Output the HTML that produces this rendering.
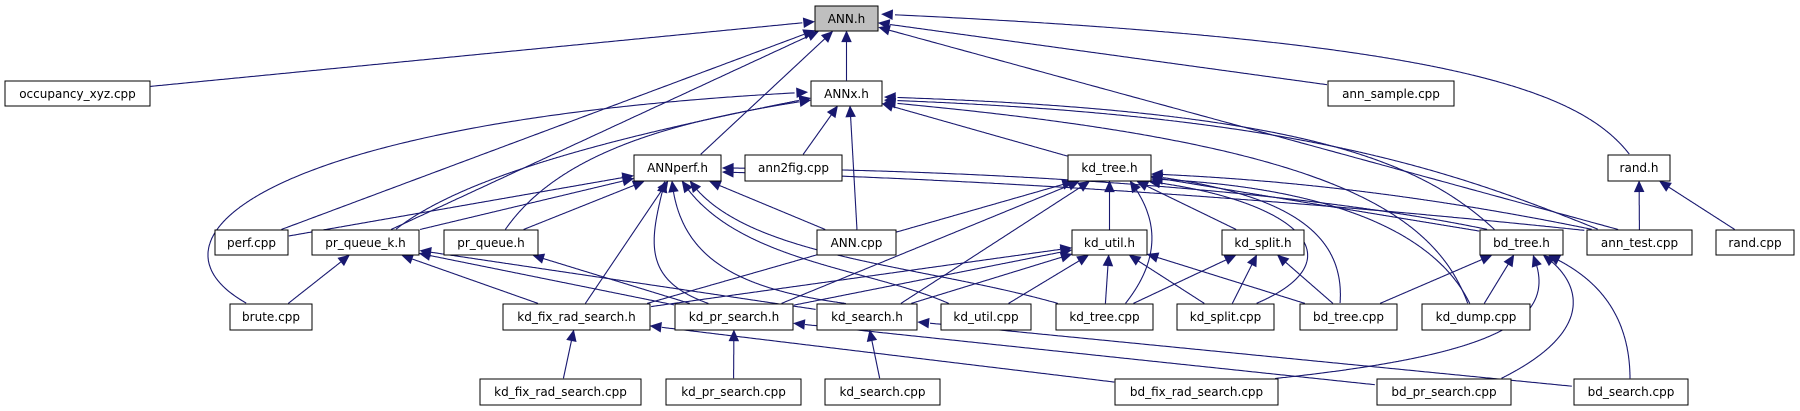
<!DOCTYPE html>
<html><head><meta charset="utf-8"><style>
html,body{margin:0;padding:0;background:#fff;width:1800px;height:411px;overflow:hidden}
svg text{font-family:"DejaVu Sans","Liberation Sans",sans-serif;font-size:12px;fill:#000}
</style></head><body>
<svg id="g" width="1800" height="411" xmlns="http://www.w3.org/2000/svg">
<g id="edges"></g>
<g id="nodes">
<rect x="815" y="6" width="63" height="25" fill="#bfbfbf" stroke="#000"/><text x="846.5" y="23" text-anchor="middle">ANN.h</text>
<rect x="5" y="81" width="145" height="25" fill="#fff" stroke="#000"/><text x="77.5" y="98" text-anchor="middle">occupancy_xyz.cpp</text>
<rect x="811" y="81" width="71" height="25" fill="#fff" stroke="#000"/><text x="846.5" y="98" text-anchor="middle">ANNx.h</text>
<rect x="1328" y="81" width="126" height="25" fill="#fff" stroke="#000"/><text x="1391" y="98" text-anchor="middle">ann_sample.cpp</text>
<rect x="634" y="155" width="87" height="26" fill="#fff" stroke="#000"/><text x="677.5" y="172" text-anchor="middle">ANNperf.h</text>
<rect x="745" y="155" width="97" height="26" fill="#fff" stroke="#000"/><text x="793.5" y="172" text-anchor="middle">ann2fig.cpp</text>
<rect x="1068" y="155" width="83" height="26" fill="#fff" stroke="#000"/><text x="1109.5" y="172" text-anchor="middle">kd_tree.h</text>
<rect x="1608" y="155" width="62" height="26" fill="#fff" stroke="#000"/><text x="1639" y="172" text-anchor="middle">rand.h</text>
<rect x="215" y="230" width="73" height="25" fill="#fff" stroke="#000"/><text x="251.5" y="247" text-anchor="middle">perf.cpp</text>
<rect x="312" y="230" width="107" height="25" fill="#fff" stroke="#000"/><text x="365.5" y="247" text-anchor="middle">pr_queue_k.h</text>
<rect x="444" y="230" width="94" height="25" fill="#fff" stroke="#000"/><text x="491" y="247" text-anchor="middle">pr_queue.h</text>
<rect x="817" y="230" width="79" height="25" fill="#fff" stroke="#000"/><text x="856.5" y="247" text-anchor="middle">ANN.cpp</text>
<rect x="1072" y="230" width="75" height="25" fill="#fff" stroke="#000"/><text x="1109.5" y="247" text-anchor="middle">kd_util.h</text>
<rect x="1222" y="230" width="82" height="25" fill="#fff" stroke="#000"/><text x="1263" y="247" text-anchor="middle">kd_split.h</text>
<rect x="1480" y="230" width="83" height="25" fill="#fff" stroke="#000"/><text x="1521.5" y="247" text-anchor="middle">bd_tree.h</text>
<rect x="1587" y="230" width="105" height="25" fill="#fff" stroke="#000"/><text x="1639.5" y="247" text-anchor="middle">ann_test.cpp</text>
<rect x="1716" y="230" width="78" height="25" fill="#fff" stroke="#000"/><text x="1755" y="247" text-anchor="middle">rand.cpp</text>
<rect x="230" y="304" width="82" height="26" fill="#fff" stroke="#000"/><text x="271" y="321" text-anchor="middle">brute.cpp</text>
<rect x="503" y="304" width="147" height="26" fill="#fff" stroke="#000"/><text x="576.5" y="321" text-anchor="middle">kd_fix_rad_search.h</text>
<rect x="675" y="304" width="118" height="26" fill="#fff" stroke="#000"/><text x="734" y="321" text-anchor="middle">kd_pr_search.h</text>
<rect x="817" y="304" width="100" height="26" fill="#fff" stroke="#000"/><text x="867" y="321" text-anchor="middle">kd_search.h</text>
<rect x="941" y="304" width="90" height="26" fill="#fff" stroke="#000"/><text x="986" y="321" text-anchor="middle">kd_util.cpp</text>
<rect x="1056" y="304" width="97" height="26" fill="#fff" stroke="#000"/><text x="1104.5" y="321" text-anchor="middle">kd_tree.cpp</text>
<rect x="1177" y="304" width="97" height="26" fill="#fff" stroke="#000"/><text x="1225.5" y="321" text-anchor="middle">kd_split.cpp</text>
<rect x="1300" y="304" width="97" height="26" fill="#fff" stroke="#000"/><text x="1348.5" y="321" text-anchor="middle">bd_tree.cpp</text>
<rect x="1422" y="304" width="108" height="26" fill="#fff" stroke="#000"/><text x="1476" y="321" text-anchor="middle">kd_dump.cpp</text>
<rect x="480" y="379" width="161" height="26" fill="#fff" stroke="#000"/><text x="560.5" y="396" text-anchor="middle">kd_fix_rad_search.cpp</text>
<rect x="666" y="379" width="135" height="26" fill="#fff" stroke="#000"/><text x="733.5" y="396" text-anchor="middle">kd_pr_search.cpp</text>
<rect x="825" y="379" width="115" height="26" fill="#fff" stroke="#000"/><text x="882.5" y="396" text-anchor="middle">kd_search.cpp</text>
<rect x="1115" y="379" width="163" height="26" fill="#fff" stroke="#000"/><text x="1196.5" y="396" text-anchor="middle">bd_fix_rad_search.cpp</text>
<rect x="1377" y="379" width="134" height="26" fill="#fff" stroke="#000"/><text x="1444" y="396" text-anchor="middle">bd_pr_search.cpp</text>
<rect x="1574" y="379" width="114" height="26" fill="#fff" stroke="#000"/><text x="1631" y="396" text-anchor="middle">bd_search.cpp</text>
</g>
</svg>
<script>
var N={
"ANN.h":[815,6,63,25],"occ":[5,81,145,25],"ANNx.h":[811,81,71,25],"sample":[1328,81,126,25],
"ANNperf.h":[634,155,87,26],"ann2fig":[745,155,97,26],"kd_tree.h":[1068,155,83,26],"rand.h":[1608,155,62,26],
"perf":[215,230,73,25],"pqk":[312,230,107,25],"pq":[444,230,94,25],"ANNcpp":[817,230,79,25],"kd_util.h":[1072,230,75,25],
"kd_split.h":[1222,230,82,25],"bd_tree.h":[1480,230,83,25],"ann_test":[1587,230,105,25],"randcpp":[1716,230,78,25],
"brute":[230,304,82,26],"kfrs.h":[503,304,147,26],"kprs.h":[675,304,118,26],"ks.h":[817,304,100,26],"kucpp":[941,304,90,26],
"ktcpp":[1056,304,97,26],"kscpp":[1177,304,97,26],"btcpp":[1300,304,97,26],"kdump":[1422,304,108,26],
"kfrscpp":[480,379,161,26],"kprscpp":[666,379,135,26],"kscpp2":[825,379,115,26],"bfrs":[1115,379,163,26],"bprs":[1377,379,134,26],"bs":[1574,379,114,26]};
var E=[
["occ","ANN.h"],["ANNx.h","ANN.h"],["ANNperf.h","ANN.h",null,null,[700,155]],["perf","ANN.h",null,null,[280,230]],["pqk","ANN.h",null,null,[390,230]],["sample","ANN.h"],["ann_test","ANN.h",null,null,[1620,230]],
["rand.h","ANN.h",[1580,90],[1450,40],[1630,155],[878,14]],
["brute","ANNx.h",[130,240],[260,120],[248,304],[811,92]],["pqk","ANNx.h",[470,170],[650,130],[395,230],[811,98]],["pq","ANNx.h",[560,150],[680,120],[505,230],[811,100]],
["ann2fig","ANNx.h"],["ANNcpp","ANNx.h",null,null,[857,230],[850,106]],["kd_tree.h","ANNx.h"],
["bd_tree.h","ANNx.h",[1420,160],[1300,110],[1495,230],[882,97]],["ann_test","ANNx.h",[1450,170],[1300,115],[1600,230],[882,100]],["kdump","ANNx.h",[1430,200],[1300,140],[1468,304],[882,102]],
["perf","ANNperf.h"],["pqk","ANNperf.h"],["pq","ANNperf.h"],["ANNcpp","ANNperf.h"],["kfrs.h","ANNperf.h",null,null,[585,304],[668,181]],
["kprs.h","ANNperf.h",[640,280],[650,240],[710,304],[665,181]],
["ks.h","ANNperf.h",[740,290],[680,260],[850,304],[672,181]],["kucpp","ANNperf.h",[870,268],[735,262],[950,304],[682,181]],["ktcpp","ANNperf.h",[920,264],[745,258],[1060,304],[690,181]],
["ann_test","ANNperf.h",[1300,200],[1000,180],[1600,232],[721,172]],["bd_tree.h","ANNperf.h",[1300,190],[1000,170],[1490,230],[721,168]],
["kd_util.h","kd_tree.h"],["kd_split.h","kd_tree.h"],["kfrs.h","kd_tree.h",null,null,[645,304],[1075,181]],["kprs.h","kd_tree.h",null,null,[780,304],[1080,181]],["ks.h","kd_tree.h",null,null,[900,304],[1090,181]],
["ktcpp","kd_tree.h",[1160,260],[1160,220],[1125,304],[1130,181]],["kscpp","kd_tree.h",[1360,260],[1300,200],[1255,304],[1145,181]],["btcpp","kd_tree.h",[1345,240],[1300,195],[1340,304],[1151,176]],
["bd_tree.h","kd_tree.h",null,null,[1485,232],[1151,177]],["ann_test","kd_tree.h",[1450,200],[1300,180],[1595,230],[1151,174]],["kdump","kd_tree.h",[1430,220],[1300,185],[1470,304],[1151,179]],
["kfrs.h","kd_util.h"],["kprs.h","kd_util.h"],["ks.h","kd_util.h"],["kucpp","kd_util.h"],["ktcpp","kd_util.h"],["kscpp","kd_util.h"],["btcpp","kd_util.h"],
["ktcpp","kd_split.h"],["kscpp","kd_split.h"],["btcpp","kd_split.h"],
["btcpp","bd_tree.h"],["kdump","bd_tree.h"],["bfrs","bd_tree.h",[1500,355],[1560,320],[1270,379],[1533,255]],["bprs","bd_tree.h",[1600,330],[1580,280],[1500,379],[1543,255]],["bs","bd_tree.h",[1630,300],[1580,270],[1630,379],[1548,255]],
["ann_test","rand.h"],["randcpp","rand.h"],
["brute","pqk"],["kfrs.h","pqk"],["kprs.h","pqk"],["ks.h","pqk"],["kprs.h","pq"],
["kfrscpp","kfrs.h"],["bfrs","kfrs.h"],["kprscpp","kprs.h"],["bprs","kprs.h"],["kscpp2","ks.h"],["bs","ks.h"]];
function inside(p,b){return p[0]>=b[0]-0.5&&p[0]<=b[0]+b[2]+0.5&&p[1]>=b[1]-0.5&&p[1]<=b[1]+b[3]+0.5;}
function ctr(b){return [b[0]+b[2]/2,b[1]+b[3]/2];}
var s="",C="#191970";
E.forEach(function(e){var a=N[e[0]],b=N[e[1]],p0=e[4]||ctr(a),p3=e[5]||ctr(b);
var c1=e[2]||[p0[0]+(p3[0]-p0[0])/3,p0[1]+(p3[1]-p0[1])/3],c2=e[3]||[p0[0]+2*(p3[0]-p0[0])/3,p0[1]+2*(p3[1]-p0[1])/3];
var pts=[];for(var i=0;i<=400;i++){var t=i/400,u=1-t;
pts.push([u*u*u*p0[0]+3*u*u*t*c1[0]+3*u*t*t*c2[0]+t*t*t*p3[0],u*u*u*p0[1]+3*u*u*t*c1[1]+3*u*t*t*c2[1]+t*t*t*p3[1]]);}
var i0=0;while(i0<pts.length-1&&inside(pts[i0],a))i0++;var i1=pts.length-1;while(i1>0&&inside(pts[i1],b))i1--;
var seg=pts.slice(i0,i1+1);if(seg.length<2)return;var end=seg[seg.length-1];
var k=seg.length-1;while(k>0&&Math.hypot(seg[k][0]-end[0],seg[k][1]-end[1])<10)k--;var base=seg[k];
var dx=end[0]-base[0],dy=end[1]-base[1],L=Math.hypot(dx,dy)||1;dx/=L;dy/=L;
var bx=end[0]-dx*10,by=end[1]-dy*10;
s+='<polyline fill="none" stroke="'+C+'" stroke-width="1.1" points="'+seg.slice(0,k+1).map(function(q){return q[0].toFixed(1)+","+q[1].toFixed(1)}).join(" ")+'"/>';
s+='<polygon fill="'+C+'" stroke="'+C+'" points="'+end[0]+','+end[1]+' '+(bx-dy*4.5)+','+(by+dx*4.5)+' '+(bx+dy*4.5)+','+(by-dx*4.5)+'"/>';});
document.getElementById("edges").innerHTML=s;
</script>
</body></html>
